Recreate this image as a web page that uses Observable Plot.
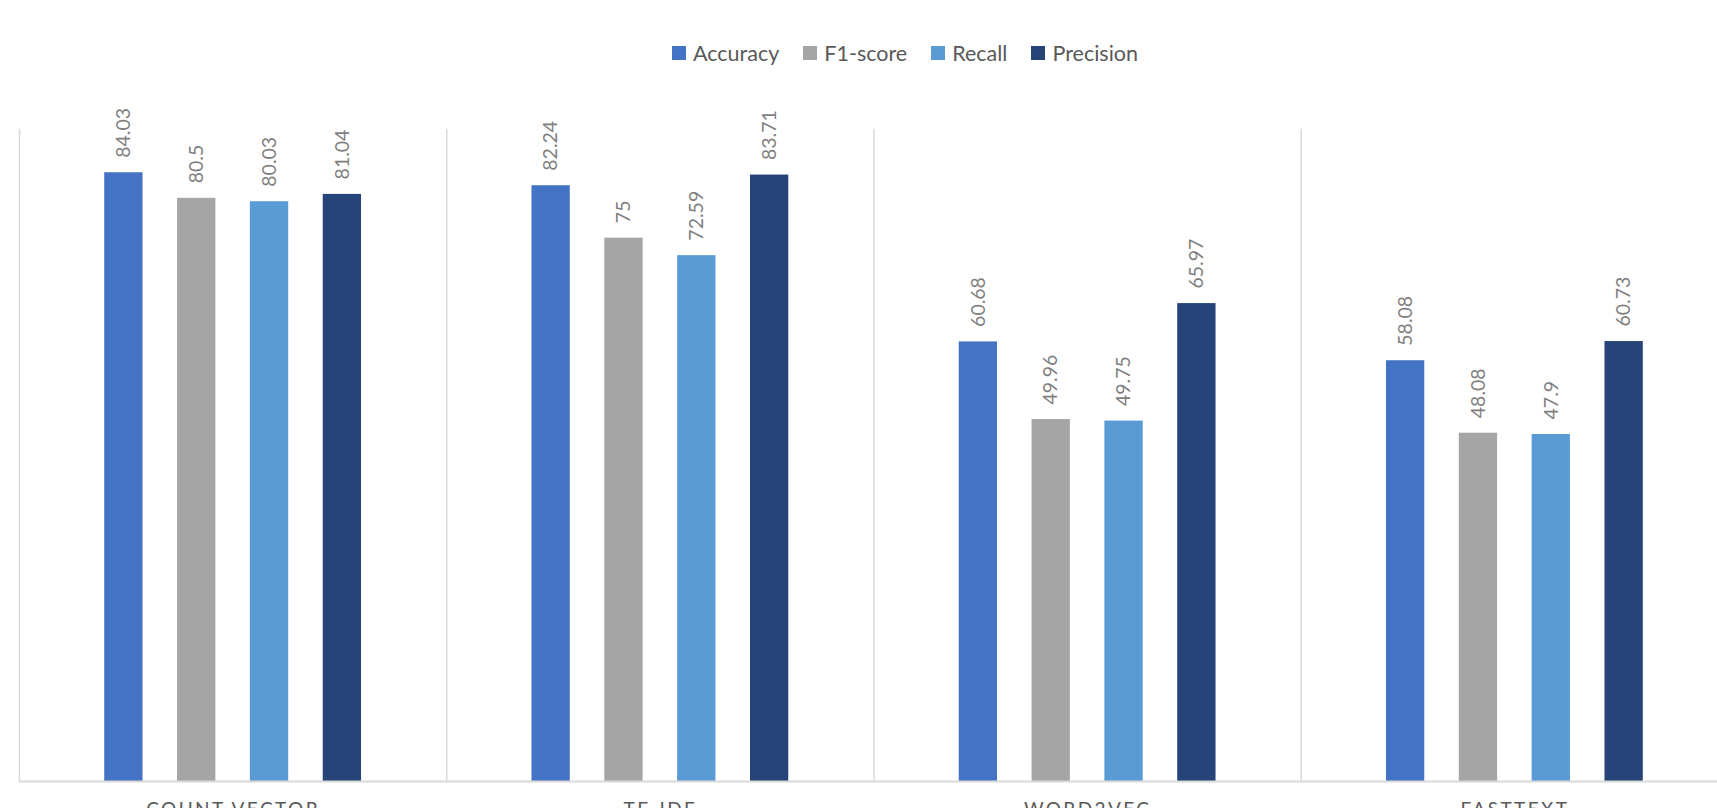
<!DOCTYPE html>
<html>
<head>
<meta charset="utf-8">
<script src="https://cdn.jsdelivr.net/npm/d3@7"></script>
<script src="https://cdn.jsdelivr.net/npm/@observablehq/plot@0.6"></script>
<style>
  html, body { margin: 0; padding: 0; background: #fff; overflow: hidden; }
  #legend { height: 100px; display: flex; justify-content: center; align-items: center;
    font-family: Lato, sans-serif; font-size: 21.5px; color: #595959; box-sizing: border-box; padding-left: 117px; padding-top: 5px; }
  #legend .item { display: flex; align-items: center; margin-right: 24px; }
  #legend .sw { width: 14px; height: 14px; margin-right: 7px; }
  #chart [aria-label^="fx-axis"] text { letter-spacing: 2.4px; }
  #chart svg { max-width: none !important; }
</style>
</head>
<body>
<div id="legend"></div>
<div id="chart"></div>
<script>
const methods = ["COUNT VECTOR", "TF-IDF", "WORD2VEC", "FASTTEXT"];
const metrics = ["Accuracy", "F1-score", "Recall", "Precision"];
const accuracy  = [84.03, 82.24, 60.68, 58.08];
const f1score   = [80.5, 75, 49.96, 48.08];
const recall    = [80.03, 72.59, 49.75, 47.9];
const precision = [81.04, 83.71, 65.97, 60.73];
const colors = ["#4472C4", "#A5A5A5", "#5B9BD5", "#264478"];

const series = [accuracy, f1score, recall, precision];
const data = [];
methods.forEach((m, i) => {
  metrics.forEach((k, j) => data.push({method: m, metric: k, value: series[j][i]}));
});

// legend
const legend = document.getElementById("legend");
metrics.forEach((k, j) => {
  const it = document.createElement("div");
  it.className = "item";
  const sw = document.createElement("div");
  sw.className = "sw";
  sw.style.background = colors[j];
  const t = document.createElement("span");
  t.textContent = k;
  it.appendChild(sw); it.appendChild(t);
  legend.appendChild(it);
});

const chart = Plot.plot({
  width: 1728,
  height: 731,
  marginLeft: 19,
  marginRight: 0,
  marginTop: 29,
  marginBottom: 50,
  style: {fontFamily: "Lato, sans-serif", fontSize: "19px", color: "#595959", background: "#fff", overflow: "visible", maxWidth: "none"},
  fx: {domain: methods, padding: 0, round: false, axis: "bottom", tickSize: 0, tickPadding: 21, label: null},
  x: {domain: metrics, paddingInner: 0.474, paddingOuter: 1.17, round: false, axis: null},
  y: {domain: [0, 90], axis: null},
  color: {domain: metrics, range: colors},
  marks: [
    Plot.frame({anchor: "left", stroke: "#d9d9d9", strokeWidth: 1.5}),
    Plot.barY(data, {fx: "method", x: "metric", y: "value", fill: "metric"}),
    Plot.ruleY([0], {stroke: "#d9d9d9", strokeWidth: 2}),
    Plot.text(data, {fx: "method", x: "metric", y: "value", text: d => String(d.value),
      rotate: -90, textAnchor: "start", dy: -15, fill: "#7f7f7f", fontSize: 19.5})
  ]
});
document.getElementById("chart").appendChild(chart);
</script>
</body>
</html>
